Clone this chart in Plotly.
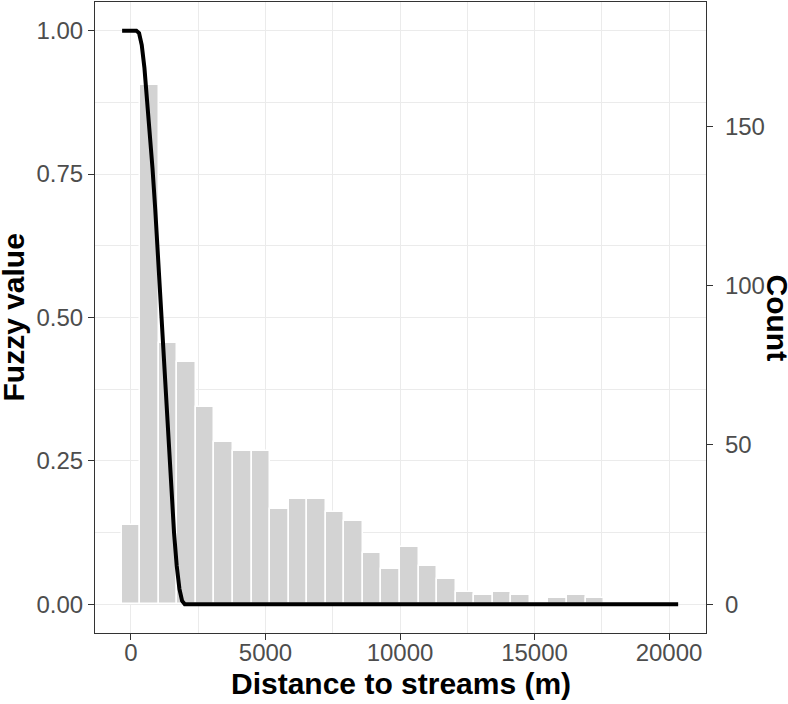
import plotly.graph_objects as go

# Histogram: bin centres (m) and counts
bin_centers = [0, 690, 1379, 2069, 2759, 3448, 4138, 4828, 5517, 6207,
               6897, 7586, 8276, 8966, 9655, 10345, 11034, 11724, 12414, 13103,
               13793, 14483, 15172, 15862, 16552, 17241, 17931, 18621, 19310, 20000]
bin_counts = [25, 163, 82, 76, 62, 51, 48, 48, 30, 33,
              33, 29, 26, 16, 11, 18, 12, 8, 4, 3,
              4, 3, 0, 2, 3, 2, 0, 0, 0, 0]
bin_width = 689.66

# Fuzzy membership curve
curve_x = [-330, 0, 200, 300, 400, 500, 600, 700, 800, 900, 1000, 1100,
           1200, 1300, 1400, 1500, 1600, 1700, 1800, 1900, 2000, 20340]
curve_y = [1.0, 1.0, 1.0, 0.996, 0.975, 0.935, 0.88, 0.83, 0.76, 0.69, 0.61, 0.53,
           0.44, 0.35, 0.27, 0.19, 0.125, 0.067, 0.027, 0.006, 0.0, 0.0]

x_ticks = [0, 5000, 10000, 15000, 20000]
x_labels = ["0", "5000", "10000", "15000", "20000"]
fuzzy_ticks = [0, 0.25, 0.5, 0.75, 1.0]
fuzzy_labels = ["0.00", "0.25", "0.50", "0.75", "1.00"]
count_ticks = [0, 50, 100, 150]
count_labels = ["0", "50", "100", "150"]

FONT = "Liberation Sans, Arial, sans-serif"
GRID = "#EBEBEB"
LINE = "#333333"
TICKFONT = dict(family=FONT, size=24, color="#4D4D4D")

fig = go.Figure()
fig.add_trace(go.Bar(
    x=bin_centers, y=bin_counts, width=bin_width,
    marker=dict(color="#D3D3D3", line=dict(color="white", width=1.5)),
    yaxis="y", showlegend=False, hoverinfo="skip"))
fig.add_trace(go.Scatter(
    x=curve_x, y=curve_y, mode="lines",
    line=dict(color="black", width=4),
    yaxis="y2", showlegend=False, hoverinfo="skip"))

fig.update_layout(
    width=788, height=704,
    margin=dict(l=95, r=82, t=2, b=71),
    plot_bgcolor="white", paper_bgcolor="white",
    bargap=0,
    xaxis=dict(range=[-1338, 21375], tickvals=x_ticks, ticktext=x_labels,
               ticks="outside", ticklen=6, automargin=False, ticklabelstandoff=-8,
               tickcolor=LINE, tickwidth=1.1, tickfont=TICKFONT,
               showline=True, mirror=True, linecolor=LINE, linewidth=1.2,
               showgrid=True, gridcolor=GRID, gridwidth=1.4, zeroline=False,
               minor=dict(dtick=2500, tick0=0, showgrid=True, gridcolor=GRID,
                          gridwidth=0.7, ticks="")),
    yaxis=dict(range=[-9, 189], tickvals=count_ticks, ticktext=count_labels,
               side="right", ticks="outside", automargin=False, ticklabelstandoff=7,
               ticklen=6, tickcolor=LINE, tickwidth=1.1, tickfont=TICKFONT,
               showline=True, linecolor=LINE, linewidth=1.2,
               showgrid=False, zeroline=False),
    yaxis2=dict(range=[-0.05, 1.05], tickvals=fuzzy_ticks, ticktext=fuzzy_labels,
                overlaying="y", side="left", ticks="outside", ticklen=6,
                automargin=False,
                tickcolor=LINE, tickwidth=1.1, tickfont=TICKFONT,
                showline=True, linecolor=LINE, linewidth=1.2,
                showgrid=True, gridcolor=GRID, gridwidth=1.4, zeroline=False,
                minor=dict(dtick=0.125, tick0=0, showgrid=True, gridcolor=GRID,
                           gridwidth=0.7, ticks="")),
    annotations=[
        dict(text="<b>Distance to streams (m)</b>", xref="paper", yref="paper",
             x=0.5, y=0, yshift=-50, xanchor="center", yanchor="middle",
             showarrow=False, font=dict(family=FONT, size=30, color="black")),
        dict(text="<b>Fuzzy value</b>", xref="paper", yref="paper",
             x=0, xshift=-82, y=0.5, xanchor="center", yanchor="middle",
             textangle=-90, showarrow=False,
             font=dict(family=FONT, size=30, color="black")),
        dict(text="<b>Count</b>", xref="paper", yref="paper",
             x=1, xshift=71, y=0.5, xanchor="center", yanchor="middle",
             textangle=90, showarrow=False,
             font=dict(family=FONT, size=30, color="black")),
    ],
)

fig.write_html("out.html", config={"displayModeBar": False},
               post_script="document.body.style.margin='0px';")
